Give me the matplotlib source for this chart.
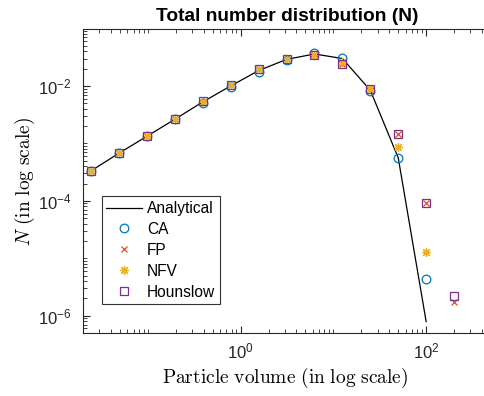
import numpy as np
import matplotlib
matplotlib.use("Agg")
import matplotlib.pyplot as plt
from matplotlib.ticker import LogLocator, NullFormatter

# Data
x_vals = [100 * 2.0 ** (k - 12) for k in range(14)]
analytical = [3.33e-4, 6.75e-4, 1.33e-3, 2.63e-3, 5.27e-3, 1.0e-2, 1.85e-2,
              2.9e-2, 3.6e-2, 3.0e-2, 8.4e-3, 5.6e-4, 7.9e-7, np.nan]
ca = [3.33e-4, 6.75e-4, 1.33e-3, 2.63e-3, 5.1e-3, 9.4e-3, 1.75e-2,
      2.85e-2, 3.8e-2, 3.07e-2, 8.3e-3, 5.66e-4, 4.35e-6, np.nan]
fp = [3.33e-4, 6.75e-4, 1.33e-3, 2.65e-3, 5.3e-3, 1.02e-2, 1.95e-2,
      2.95e-2, 3.46e-2, 2.45e-2, 8.9e-3, 1.44e-3, 9.1e-5, 1.70e-6]
nfv = [3.33e-4, 6.75e-4, 1.33e-3, 2.65e-3, 5.3e-3, 1.02e-2, 1.95e-2,
       2.95e-2, 3.46e-2, 2.6e-2, 8.9e-3, 8.8e-4, 1.26e-5, np.nan]
hounslow = [3.33e-4, 6.75e-4, 1.35e-3, 2.68e-3, 5.4e-3, 1.05e-2, 2.0e-2,
            2.95e-2, 3.46e-2, 2.41e-2, 8.9e-3, 1.445e-3, 9.1e-5, 2.23e-6]

W, H = 484, 396
fig = plt.figure(figsize=(W / 100, H / 100), dpi=100)
left, bottom, top = 82.7, 332.7, 29.3
right = 492.0
ax = fig.add_axes([left / W, (H - bottom) / H, (right - left) / W, (bottom - top) / H])

ax.plot(x_vals, analytical, '-', color='black', lw=0.9, label='Analytical')
ax.plot(x_vals, ca, 'o', mfc='none', mec='#0072BD', mew=0.9, ms=6.2, label='CA', linestyle='none')
ax.plot(x_vals, fp, 'x', color='#D95319', mew=0.9, ms=5, label='FP', linestyle='none')
ax.plot(x_vals, nfv, marker=(8, 2, 0), color='#EDB120', mew=0.9, ms=6.5, label='NFV', linestyle='none')
ax.plot(x_vals, hounslow, 's', mfc='none', mec='#7E2F8E', mew=0.9, ms=5.5, label='Hounslow', linestyle='none')

ax.set_xscale('log')
ax.set_yscale('log')
ax.set_xlim(10 ** -1.703, 10 ** (-1.703 + (right - left) / 92.75))
ax.set_ylim(10 ** -6.296, 10 ** -1.014)

ax.xaxis.set_major_locator(LogLocator(base=100, numticks=10))
ax.yaxis.set_major_locator(LogLocator(base=100, numticks=10))
ax.xaxis.set_minor_locator(LogLocator(base=10, subs=np.arange(1, 10), numticks=40))
ax.yaxis.set_minor_locator(LogLocator(base=10, subs=np.arange(1, 10), numticks=40))
ax.xaxis.set_minor_formatter(NullFormatter())
ax.yaxis.set_minor_formatter(NullFormatter())

spine_col = '#262626'
for s in ax.spines.values():
    s.set_color(spine_col)
    s.set_linewidth(0.8)
ax.tick_params(which='both', direction='in', top=True, right=True, colors=spine_col,
               labelsize=12, labelcolor='#262626')
ax.tick_params(which='major', length=5, width=0.8)
ax.tick_params(which='minor', length=2.8, width=0.6)
ax.tick_params(axis='y', which='major', pad=8)
ax.tick_params(axis='x', which='major', pad=6)
for lab in ax.get_xticklabels() + ax.get_yticklabels():
    lab.set_fontfamily('Liberation Sans')

plt.rcParams['mathtext.fontset'] = 'custom'
plt.rcParams['mathtext.rm'] = 'Liberation Sans'
plt.rcParams['mathtext.it'] = 'Liberation Sans:italic'

ax.set_title('Total number distribution (N)', fontsize=13.8, fontweight='bold',
             family='Liberation Sans', pad=6)

fig.text(0.5 * (163 + 408) / W, (H - 378) / H, r'$\mathrm{Particle\ volume\ (in\ log\ scale)}$',
         ha='center', va='center', fontsize=14, math_fontfamily='cm')
fig.text(25 / W, (H - 181) / H, r'$N\ \mathrm{(in\ log\ scale)}$', ha='center', va='center',
         rotation=90, fontsize=14, math_fontfamily='cm')

leg = ax.legend(loc='lower left', bbox_to_anchor=((101.7 - left) / (right - left), (bottom - 304.3) / (bottom - top)),
                prop={'family': 'Liberation Sans', 'size': 11.2}, frameon=True, fancybox=False,
                edgecolor='black', borderpad=0.3, labelspacing=0.38, handlelength=2.3,
                handletextpad=0.3, borderaxespad=0)
leg.get_frame().set_linewidth(0.8)

fig.savefig('out.png', dpi=100)
